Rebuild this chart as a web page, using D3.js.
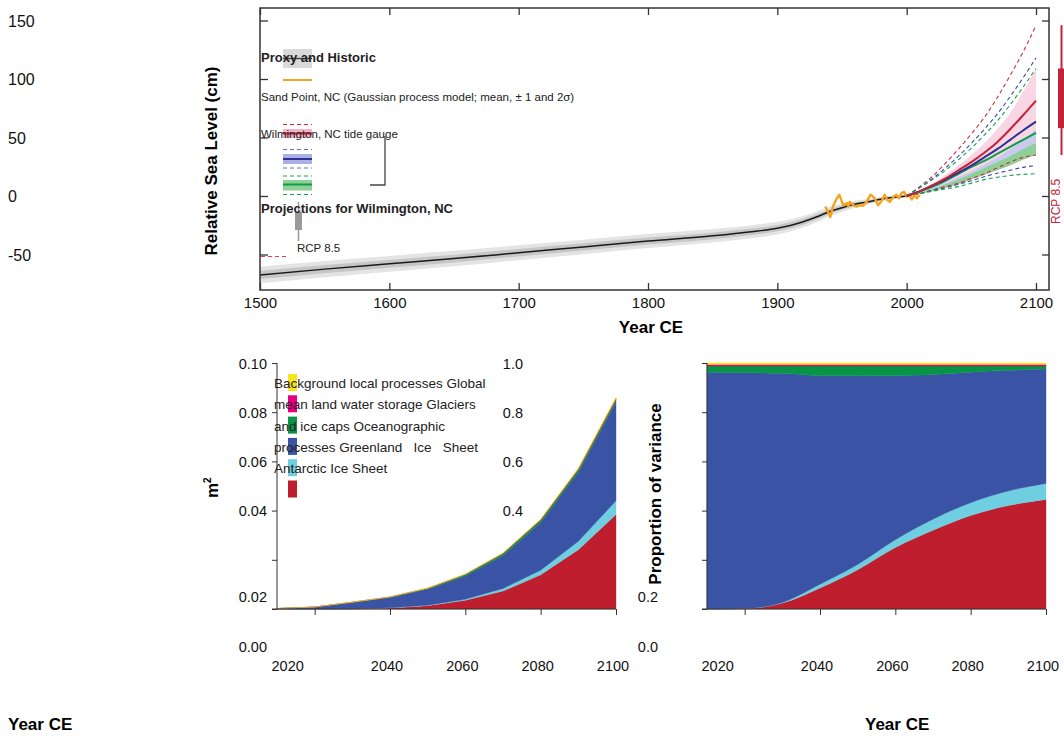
<!DOCTYPE html>
<html>
<head>
<meta charset="utf-8">
<script src="https://cdn.jsdelivr.net/npm/d3@7"></script>
<style>
  body { margin: 0; background: #fff; }
  svg { font-family: "Liberation Sans", Arial, sans-serif; }
</style>
</head>
<body>
<div id="chart"></div>
<script>
// ---- top panel: relative sea level, Wilmington NC
const rslYears = [1500, 1550, 1600, 1650, 1700, 1750, 1800, 1850, 1880, 1900, 1920, 1930, 1940, 1950, 1960, 1970, 1980, 1990, 2000];
const rslMean = [-67.5, -62.5, -58, -53.5, -48.5, -43.5, -38.5, -34, -30.5, -27.5, -22, -18, -13.5, -10, -7, -5, -2.7, -1.2, 0];
const rslSd = [3.5, 3.5, 3.4, 3.3, 3.2, 3.1, 3, 2.9, 2.8, 2.7, 2.5, 2.3, 2, 1.8, 1.5, 1.2, 1, 0.8, 0.6];

const sandYears = [1937, 1939, 1941, 1943, 1946, 1948, 1951, 1954, 1955, 1956, 1959, 1961, 1964, 1966, 1969, 1972, 1974, 1976, 1978, 1981, 1983, 1985, 1987, 1990, 1992, 1994, 1996, 1998, 2000, 2002, 2004, 2006, 2008, 2010];
const sandValues = [-9, -13, -18, -9, -2, 1, -8, -6, -9, -5, -8, -9, -8, -8.5, -5, 1, -0.5, -3.5, -8, -3.5, 1, -3.5, -5, -0.5, 1, -2, 2.5, 3.5, -0.5, 1, -3, 1, -2, 1];

const projYears = [2000, 2010, 2020, 2030, 2040, 2050, 2060, 2070, 2080, 2090, 2100];
const redHi = [0, 8, 17, 28, 40, 53, 67, 84, 103, 123, 146];
const blueHi = [0, 7, 15, 24, 34, 45, 57, 70, 85, 101, 118];
const greenHi = [0, 7, 14, 22, 31, 41, 52, 64, 78, 93, 109];
const redMean = [0, 4, 9, 15, 22, 29, 37, 46, 57, 69, 81.5];
const blueMean = [0, 4, 9, 14, 20, 26, 33, 40, 48, 56, 63.5];
const greenMean = [0, 4, 8, 13, 19, 25, 30, 36, 42, 48, 54];
const redLo = [0, 2, 5, 8, 11, 15, 19, 24, 29, 33, 35];
const blueLo = [0, 2, 5, 7, 10, 13, 16.5, 19.5, 22, 24.5, 26];
const greenLo = [0, 2, 4, 6, 8, 11, 14, 16, 17.5, 18.5, 19];
const redBandHi = [0, 5, 11, 18, 26, 35, 45, 57, 71, 89, 109];
const redBandLo = [0, 2, 4, 7, 11, 15, 20, 25, 29, 33, 35];
const blueBandHi = [0, 3, 7, 11, 16, 21, 27, 33, 40, 48, 57];
const blueBandLo = [0, 2, 5, 8, 12, 16, 20, 25, 31, 37, 44];
const greenBandHi = [0, 3, 6, 10, 14, 19, 24, 29, 34, 40, 45];
const greenBandLo = [0, 2, 4, 7, 10, 14, 18, 22, 26, 31, 35];
const rcp85Range = [35, 58, 109, 146]; // 2100: 2.5%, 17%, 83%, 97.5%

const topXTicks = [1500, 1600, 1700, 1800, 1900, 2000, 2100];
const topYTicks = [-50, 0, 50, 100, 150];

// ---- bottom panels: variance by process (m^2)
const varYears = [2010, 2020, 2030, 2040, 2050, 2060, 2070, 2080, 2090, 2100];
const varAntarctic = [0, 0.0000016, 0.000067, 0.00042, 0.00136, 0.00355, 0.0073, 0.0139, 0.0241, 0.0384];
const varGreenland = [0, 0, 0.0000084, 0.000074, 0.00018, 0.00045, 0.00103, 0.0019, 0.0034, 0.0056];
const varOcean = [0.00019, 0.000767, 0.00261, 0.00416, 0.00652, 0.00946, 0.0134, 0.0194, 0.0281, 0.0401];
const varGlaciers = [0.000005, 0.000022, 0.000084, 0.000196, 0.00034, 0.00057, 0.0008, 0.00092, 0.00103, 0.00103];
const varLandWater = [0.0000012, 0.0000048, 0.0000168, 0.0000294, 0.000051, 0.000085, 0.000137, 0.00022, 0.00034, 0.00052];
const varBackground = [0.0000012, 0.0000048, 0.0000168, 0.0000294, 0.000051, 0.000085, 0.000137, 0.00022, 0.00034, 0.00052];

const varXTicks = [2020, 2040, 2060, 2080, 2100];
const varYTicks = [0, 0.02, 0.04, 0.06, 0.08, 0.1];
const propYTicks = [0, 0.2, 0.4, 0.6, 0.8, 1];

const svg = d3.select("#chart").append("svg")
  .attr("width", 1064)
  .attr("height", 736);

// ================= top panel =================
const x = d3.scaleLinear().domain([1500, 2100]).range([260, 1036]);
const y = d3.scaleLinear().domain([-50, 150]).range([254.5, 20.5]);
const topG = svg.append("g");

const rsl = rslYears.map((yr, i) => ({ year: yr, mean: rslMean[i], sd: rslSd[i] }));
const rslBand = k => d3.area().curve(d3.curveMonotoneX)
  .x(d => x(d.year))
  .y0(d => y(d.mean - k * d.sd))
  .y1(d => y(d.mean + k * d.sd));

topG.append("path").datum(rsl).attr("fill", "#e4e4e4").attr("d", rslBand(2));
topG.append("path").datum(rsl).attr("fill", "#c6c6c6").attr("d", rslBand(1));
topG.append("path").datum(rsl)
  .attr("fill", "none")
  .attr("stroke", "#1a1a1a")
  .attr("stroke-width", 1.5)
  .attr("d", d3.line().curve(d3.curveMonotoneX).x(d => x(d.year)).y(d => y(d.mean)));

// projections
const bandArea = (lo, hi) => d3.area().curve(d3.curveMonotoneX)
  .x((d, i) => x(projYears[i]))
  .y0((d, i) => y(lo[i]))
  .y1((d, i) => y(hi[i]));
const projLine = vals => d3.line().curve(d3.curveMonotoneX)
  .x((d, i) => x(projYears[i]))
  .y((d, i) => y(vals[i]));

topG.append("path").datum(projYears).attr("fill", "#f9d6e3").attr("d", bandArea(redBandLo, redBandHi));
topG.append("path").datum(projYears).attr("fill", "#c9caee").attr("d", bandArea(blueBandLo, blueBandHi));
topG.append("path").datum(projYears).attr("fill", "#8fcf98").attr("d", bandArea(greenBandLo, greenBandHi));

const dashed = [
  [redHi, "#d42a3c"], [blueHi, "#3d4aa8"], [greenHi, "#12a150"],
  [redLo, "#d42a3c"], [blueLo, "#3d4aa8"], [greenLo, "#12a150"]
];
dashed.forEach(([vals, col]) => {
  topG.append("path").datum(projYears)
    .attr("fill", "none")
    .attr("stroke", col)
    .attr("stroke-width", 1.1)
    .attr("stroke-dasharray", "4,3")
    .attr("d", projLine(vals));
});

// sand point record
topG.append("path").datum(sandYears)
  .attr("fill", "none")
  .attr("stroke", "#f5a31c")
  .attr("stroke-width", 2.4)
  .attr("stroke-linejoin", "round")
  .attr("d", d3.line().x(d => x(d)).y((d, i) => y(sandValues[i])));

[[greenMean, "#0d9c48"], [blueMean, "#2e3192"], [redMean, "#c4223a"]].forEach(([vals, col]) => {
  topG.append("path").datum(projYears)
    .attr("fill", "none")
    .attr("stroke", col)
    .attr("stroke-width", 2)
    .attr("d", projLine(vals));
});

// RCP 8.5 box at right edge
topG.append("line")
  .attr("x1", 1061.5).attr("x2", 1061.5)
  .attr("y1", y(rcp85Range[0])).attr("y2", y(rcp85Range[3]))
  .attr("stroke", "#c4223a").attr("stroke-width", 2);
topG.append("rect")
  .attr("x", 1058).attr("width", 9)
  .attr("y", y(rcp85Range[2])).attr("height", y(rcp85Range[1]) - y(rcp85Range[2]))
  .attr("fill", "#c4223a");
topG.append("text")
  .attr("transform", "translate(1060,224) rotate(-90)")
  .attr("fill", "#c4223a")
  .attr("font-size", 12)
  .text("RCP 8.5");

// frame and axes
topG.append("rect")
  .attr("x", 260).attr("y", 8).attr("width", 789).attr("height", 282)
  .attr("fill", "none").attr("stroke", "#333").attr("stroke-width", 1.5);

const xAxisB = topG.append("g")
  .attr("transform", "translate(0,290)")
  .call(d3.axisBottom(x).tickValues(topXTicks).tickFormat(d3.format("d")).tickSizeInner(-7).tickSizeOuter(0).tickPadding(7));
topG.append("g")
  .attr("transform", "translate(0,8)")
  .call(d3.axisTop(x).tickValues(topXTicks).tickFormat("").tickSizeInner(-7).tickSizeOuter(0));
topG.append("g")
  .attr("transform", "translate(260,0)")
  .call(d3.axisLeft(y).tickValues(topYTicks).tickFormat("").tickSizeInner(-8).tickSizeOuter(0));
topG.append("g")
  .attr("transform", "translate(1049,0)")
  .call(d3.axisRight(y).tickValues(topYTicks).tickFormat("").tickSizeInner(-7).tickSizeOuter(0));

topG.selectAll(".domain").remove();
topG.selectAll(".tick line").attr("stroke", "#333").attr("stroke-width", 1.3);
xAxisB.selectAll("text").attr("font-size", 15).attr("fill", "#111");
xAxisB.attr("font-family", null);

topG.selectAll(".ylab")
  .data(topYTicks)
  .enter().append("text")
  .attr("class", "ylab")
  .attr("x", 8)
  .attr("y", d => y(d) + 6)
  .attr("font-size", 16)
  .attr("fill", "#111")
  .text(d => d);

topG.append("text")
  .attr("x", 651).attr("y", 333)
  .attr("text-anchor", "middle")
  .attr("font-size", 17).attr("font-weight", "bold")
  .text("Year CE");
topG.append("text")
  .attr("transform", "translate(217,161) rotate(-90)")
  .attr("text-anchor", "middle")
  .attr("font-size", 17).attr("font-weight", "bold")
  .text("Relative Sea Level (cm)");

// legend (inside top panel)
const leg = topG.append("g");
leg.append("rect").attr("x", 283).attr("y", 49).attr("width", 29).attr("height", 19).attr("fill", "#d9d9d9");
leg.append("line").attr("x1", 283).attr("x2", 312).attr("y1", 58.5).attr("y2", 58.5).attr("stroke", "#444").attr("stroke-width", 1.5);
leg.append("line").attr("x1", 283).attr("x2", 312).attr("y1", 80).attr("y2", 80).attr("stroke", "#f5a31c").attr("stroke-width", 2);

leg.append("line").attr("x1", 283).attr("x2", 312).attr("y1", 124.5).attr("y2", 124.5).attr("stroke", "#d42a3c").attr("stroke-dasharray", "4,3");
leg.append("rect").attr("x", 283).attr("y", 129).attr("width", 29).attr("height", 9).attr("fill", "#f4b3c8");
leg.append("line").attr("x1", 283).attr("x2", 312).attr("y1", 133.5).attr("y2", 133.5).attr("stroke", "#c4223a").attr("stroke-width", 2);

leg.append("line").attr("x1", 283).attr("x2", 312).attr("y1", 149.5).attr("y2", 149.5).attr("stroke", "#5a6fd0").attr("stroke-dasharray", "4,3");
leg.append("rect").attr("x", 283).attr("y", 154).attr("width", 29).attr("height", 10).attr("fill", "#aab0e6");
leg.append("line").attr("x1", 283).attr("x2", 312).attr("y1", 159).attr("y2", 159).attr("stroke", "#2e3192").attr("stroke-width", 2);
leg.append("line").attr("x1", 283).attr("x2", 312).attr("y1", 168).attr("y2", 168).attr("stroke", "#5a6fd0").attr("stroke-dasharray", "4,3");

leg.append("line").attr("x1", 283).attr("x2", 312).attr("y1", 176).attr("y2", 176).attr("stroke", "#12a150").attr("stroke-dasharray", "4,3");
leg.append("rect").attr("x", 283).attr("y", 180).attr("width", 29).attr("height", 10.5).attr("fill", "#8fcf98");
leg.append("line").attr("x1", 283).attr("x2", 312).attr("y1", 184.5).attr("y2", 184.5).attr("stroke", "#0d9c48").attr("stroke-width", 2);
leg.append("line").attr("x1", 283).attr("x2", 312).attr("y1", 194.5).attr("y2", 194.5).attr("stroke", "#12a150").attr("stroke-dasharray", "4,3");

leg.append("path").attr("d", "M385,136V185H370").attr("fill", "none").attr("stroke", "#444").attr("stroke-width", 1.3);

leg.append("line").attr("x1", 298.5).attr("x2", 298.5).attr("y1", 202).attr("y2", 241).attr("stroke", "#999").attr("stroke-width", 1.5);
leg.append("rect").attr("x", 295).attr("y", 212).attr("width", 7).attr("height", 18).attr("fill", "#999");
leg.append("line").attr("x1", 261).attr("x2", 288).attr("y1", 256.5).attr("y2", 256.5).attr("stroke", "#e0404f").attr("stroke-dasharray", "4,3");

leg.append("text").attr("x", 261).attr("y", 62).attr("font-size", 13).attr("font-weight", "bold").attr("fill", "#222").text("Proxy and Historic");
leg.append("text").attr("x", 261).attr("y", 101).attr("font-size", 11.5).attr("fill", "#222").text("Sand Point, NC (Gaussian process model; mean, \u00b1 1 and 2\u03c3)");
leg.append("text").attr("x", 261).attr("y", 138).attr("font-size", 11.5).attr("fill", "#222").text("Wilmington, NC tide gauge");
leg.append("text").attr("x", 261).attr("y", 213).attr("font-size", 13).attr("font-weight", "bold").attr("fill", "#222").text("Projections for Wilmington, NC");
leg.append("text").attr("x", 297).attr("y", 252).attr("font-size", 11.5).attr("fill", "#222").text("RCP 8.5");

// ================= bottom panels =================
const keys = ["antarctic", "greenland", "ocean", "glaciers", "landwater", "background"];
const colors = {
  antarctic: "#be1e2d", greenland: "#6fcfe0", ocean: "#3a53a4",
  glaciers: "#079447", landwater: "#e6007e", background: "#f7e617"
};
const table = varYears.map((yr, i) => ({
  year: yr,
  antarctic: varAntarctic[i],
  greenland: varGreenland[i],
  ocean: varOcean[i],
  glaciers: varGlaciers[i],
  landwater: varLandWater[i],
  background: varBackground[i]
}));

const yV = d3.scaleLinear().domain([0, 0.1]).range([609, 363]);
const yP = d3.scaleLinear().domain([0, 1]).range([609, 363]);

function panel(x0, x1, yScale, yTicks, offset, curve) {
  const xs = d3.scaleLinear().domain([2010, 2100]).range([x0, x1]);
  const g = svg.append("g");
  const series = d3.stack().keys(keys).offset(offset)(table);
  const area = d3.area().curve(curve)
    .x(d => xs(d.data.year))
    .y0(d => yScale(d[0]))
    .y1(d => yScale(d[1]));
  g.selectAll(".layer")
    .data(series)
    .enter().append("path")
    .attr("class", "layer")
    .attr("fill", d => colors[d.key])
    .attr("stroke", d => colors[d.key])
    .attr("stroke-width", 0.4)
    .attr("d", area);

  g.append("g")
    .attr("transform", "translate(" + x0 + ",0)")
    .call(d3.axisLeft(yScale).tickValues(yTicks).tickFormat("").tickSize(5));
  g.append("g")
    .attr("transform", "translate(0,609)")
    .call(d3.axisBottom(xs).tickValues(varXTicks).tickFormat("").tickSizeInner(6).tickSizeOuter(0));
  g.selectAll(".domain").remove();
  g.append("line").attr("x1", x0).attr("x2", x0).attr("y1", 363).attr("y2", 609).attr("stroke", "#333");
  g.append("line").attr("x1", x0 - 5).attr("x2", x1).attr("y1", 609).attr("y2", 609).attr("stroke", "#333");
  g.selectAll(".tick line").attr("stroke", "#333");

  g.selectAll(".xlab")
    .data(varXTicks)
    .enter().append("text")
    .attr("class", "xlab")
    .attr("x", d => xs(d) + (d === 2020 ? -27 : -3))
    .attr("y", 671)
    .attr("text-anchor", "middle")
    .attr("font-size", 14.5)
    .attr("fill", "#111")
    .text(d => d);
  return g;
}

const leftG = panel(277, 616, yV, varYTicks, d3.stackOffsetNone, d3.curveLinear);
const rightG = panel(707, 1046, yP, propYTicks, d3.stackOffsetExpand, d3.curveMonotoneX);

// y labels (left panel)
leftG.selectAll(".ylab")
  .data(varYTicks)
  .enter().append("text")
  .attr("class", "ylab")
  .attr("x", 267)
  .attr("y", d => yV(d) + (d <= 0.02 ? 37 : 0) + 5.5)
  .attr("text-anchor", "end")
  .attr("font-size", 14.5)
  .attr("fill", "#111")
  .text(d => d.toFixed(2));

// y labels (right panel) - drawn in the gap between panels
rightG.selectAll(".ylab")
  .data(propYTicks)
  .enter().append("text")
  .attr("class", "ylab")
  .attr("x", d => d <= 0.2 ? 658 : 523)
  .attr("y", d => yP(d) + (d <= 0.2 ? 37 : 0) + 5.5)
  .attr("text-anchor", "end")
  .attr("font-size", 14.5)
  .attr("fill", "#111")
  .text(d => d.toFixed(1));

// legend (left panel)
const legKeys = ["background", "landwater", "glaciers", "ocean", "greenland", "antarctic"];
leftG.selectAll(".sw")
  .data(legKeys)
  .enter().append("rect")
  .attr("class", "sw")
  .attr("x", 288)
  .attr("y", (d, i) => 374 + i * 21.3)
  .attr("width", 9)
  .attr("height", 17)
  .attr("fill", d => colors[d]);

const legLines = [
  "Background local processes Global",
  "mean land water storage Glaciers",
  "and ice caps Oceanographic",
  "processes Greenland   Ice   Sheet",
  "Antarctic Ice Sheet"
];
leftG.selectAll(".legtxt")
  .data(legLines)
  .enter().append("text")
  .attr("class", "legtxt")
  .attr("x", 274)
  .attr("y", (d, i) => 388 + i * 21.3)
  .attr("font-size", 13.5)
  .attr("fill", "#222")
  .style("white-space", "pre")
  .text(d => d);

svg.append("text")
  .attr("transform", "translate(218,498) rotate(-90)")
  .attr("font-size", 17).attr("font-weight", "bold")
  .text("m")
  .append("tspan")
  .attr("dy", -7)
  .attr("font-size", 10)
  .text("2");

svg.append("text")
  .attr("transform", "translate(661,494) rotate(-90)")
  .attr("text-anchor", "middle")
  .attr("font-size", 17).attr("font-weight", "bold")
  .text("Proportion of variance");

svg.append("text").attr("x", 8).attr("y", 730).attr("font-size", 17).attr("font-weight", "bold").text("Year CE");
svg.append("text").attr("x", 865).attr("y", 730).attr("font-size", 17).attr("font-weight", "bold").text("Year CE");
</script>
</body>
</html>
